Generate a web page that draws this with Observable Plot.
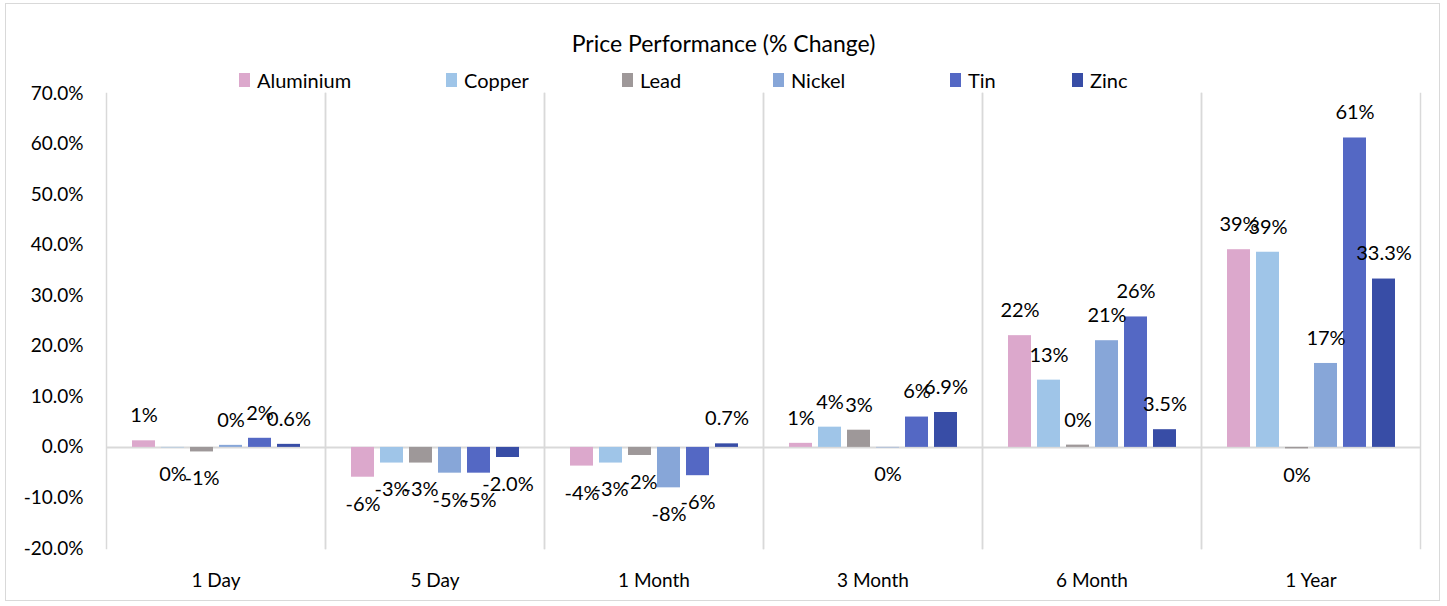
<!DOCTYPE html>
<html>
<head>
<meta charset="utf-8">
<script src="https://cdn.jsdelivr.net/npm/d3@7"></script>
<script src="https://cdn.jsdelivr.net/npm/@observablehq/plot@0.6"></script>
<style>
  html, body { margin: 0; padding: 0; background: #fff; }
  #wrap { position: relative; width: 1447px; height: 606px; font-family: Lato, "Open Sans", sans-serif; color: #000; overflow: hidden; }
  #border { position: absolute; left: 5px; top: 3px; width: 1435px; height: 598px; border: 1px solid #d9d9d9; box-sizing: border-box; }
  #title { position: absolute; left: 0; width: 1447px; top: 29px; text-align: center; font-size: 23px; line-height: 28px; }
  .leg { position: absolute; top: 68px; height: 24px; display: flex; align-items: center; font-size: 20px; white-space: nowrap; }
  .sw { width: 11px; height: 14px; margin-right: 7px; }
  #chart { position: absolute; left: 0; top: 88px; }
</style>
</head>
<body>
<div id="wrap">
  <div id="border"></div>
  <div id="title">Price Performance (% Change)</div>
  <div id="legend"></div>
  <div id="chart"></div>
</div>
<script>
const periods = ["1 Day", "5 Day", "1 Month", "3 Month", "6 Month", "1 Year"];
const metals = ["Aluminium", "Copper", "Lead", "Nickel", "Tin", "Zinc"];
const colors = ["#dca8cc", "#9fc5e8", "#9e9899", "#87a6d8", "#5468c4", "#384da6"];

const aluminium = [1.3, -5.9, -3.7, 0.8, 22.1, 39.1];
const copper    = [-0.1, -3.1, -3.1, 4.0, 13.3, 38.6];
const lead      = [-0.9, -3.1, -1.6, 3.4, 0.45, -0.3];
const nickel    = [0.4, -5.1, -8.0, -0.1, 21.1, 16.6];
const tin       = [1.8, -5.1, -5.6, 6.0, 25.8, 61.2];
const zinc      = [0.6, -2.0, 0.7, 6.9, 3.5, 33.3];

const yTicks = [-20, -10, 0, 10, 20, 30, 40, 50, 60, 70];

const series = [aluminium, copper, lead, nickel, tin, zinc];
const data = periods.flatMap((p, i) => metals.map((m, j) => ({period: p, metal: m, value: series[j][i]})));

function fmt(d) {
  if (d.metal === "Zinc") return d.value.toFixed(1) + "%";
  const r = Math.round(d.value);
  return (r === 0 ? 0 : r) + "%";
}

// legend
const legendX = [239, 446, 622, 773, 950, 1072];
const legend = document.getElementById("legend");
metals.forEach((m, i) => {
  const item = document.createElement("div");
  item.className = "leg";
  item.style.left = legendX[i] + "px";
  item.innerHTML = `<span class="sw" style="background:${colors[i]}"></span><span>${m}</span>`;
  legend.appendChild(item);
});

const chart = Plot.plot({
  width: 1447,
  height: 510,
  marginTop: 5,
  marginBottom: 50,
  marginLeft: 105,
  marginRight: 27,
  style: {fontFamily: "Lato, 'Open Sans', sans-serif", fontSize: "19px", color: "#000", background: "transparent", overflow: "visible"},
  fx: {domain: periods, padding: 0, label: null, axis: "bottom", tickSize: 0, tickPadding: 25},
  x: {domain: metals, paddingInner: 0.22, paddingOuter: 0.885, axis: null},
  y: {domain: [-20, 70], ticks: yTicks, tickFormat: d => d.toFixed(1) + "%", tickSize: 0, tickPadding: 23, label: null},
  color: {domain: metals, range: colors},
  marks: [
    Plot.frame({anchor: "left", stroke: "#d9d9d9", strokeWidth: 1.5}),
    Plot.frame({anchor: "right", stroke: "#d9d9d9", strokeWidth: 1.5}),
    Plot.ruleY([0], {stroke: "#d9d9d9", strokeWidth: 2}),
    Plot.barY(data, {fx: "period", x: "metal", y: "value", fill: "metal"}),
    Plot.text(data.filter(d => d.value >= 0), {fx: "period", x: "metal", y: "value", text: fmt, dy: -25, fontSize: 20, fill: "#000"}),
    Plot.text(data.filter(d => d.value < 0), {fx: "period", x: "metal", y: "value", text: fmt, dy: 27, fontSize: 20, fill: "#000"})
  ]
});
document.getElementById("chart").appendChild(chart);
</script>
</body>
</html>
